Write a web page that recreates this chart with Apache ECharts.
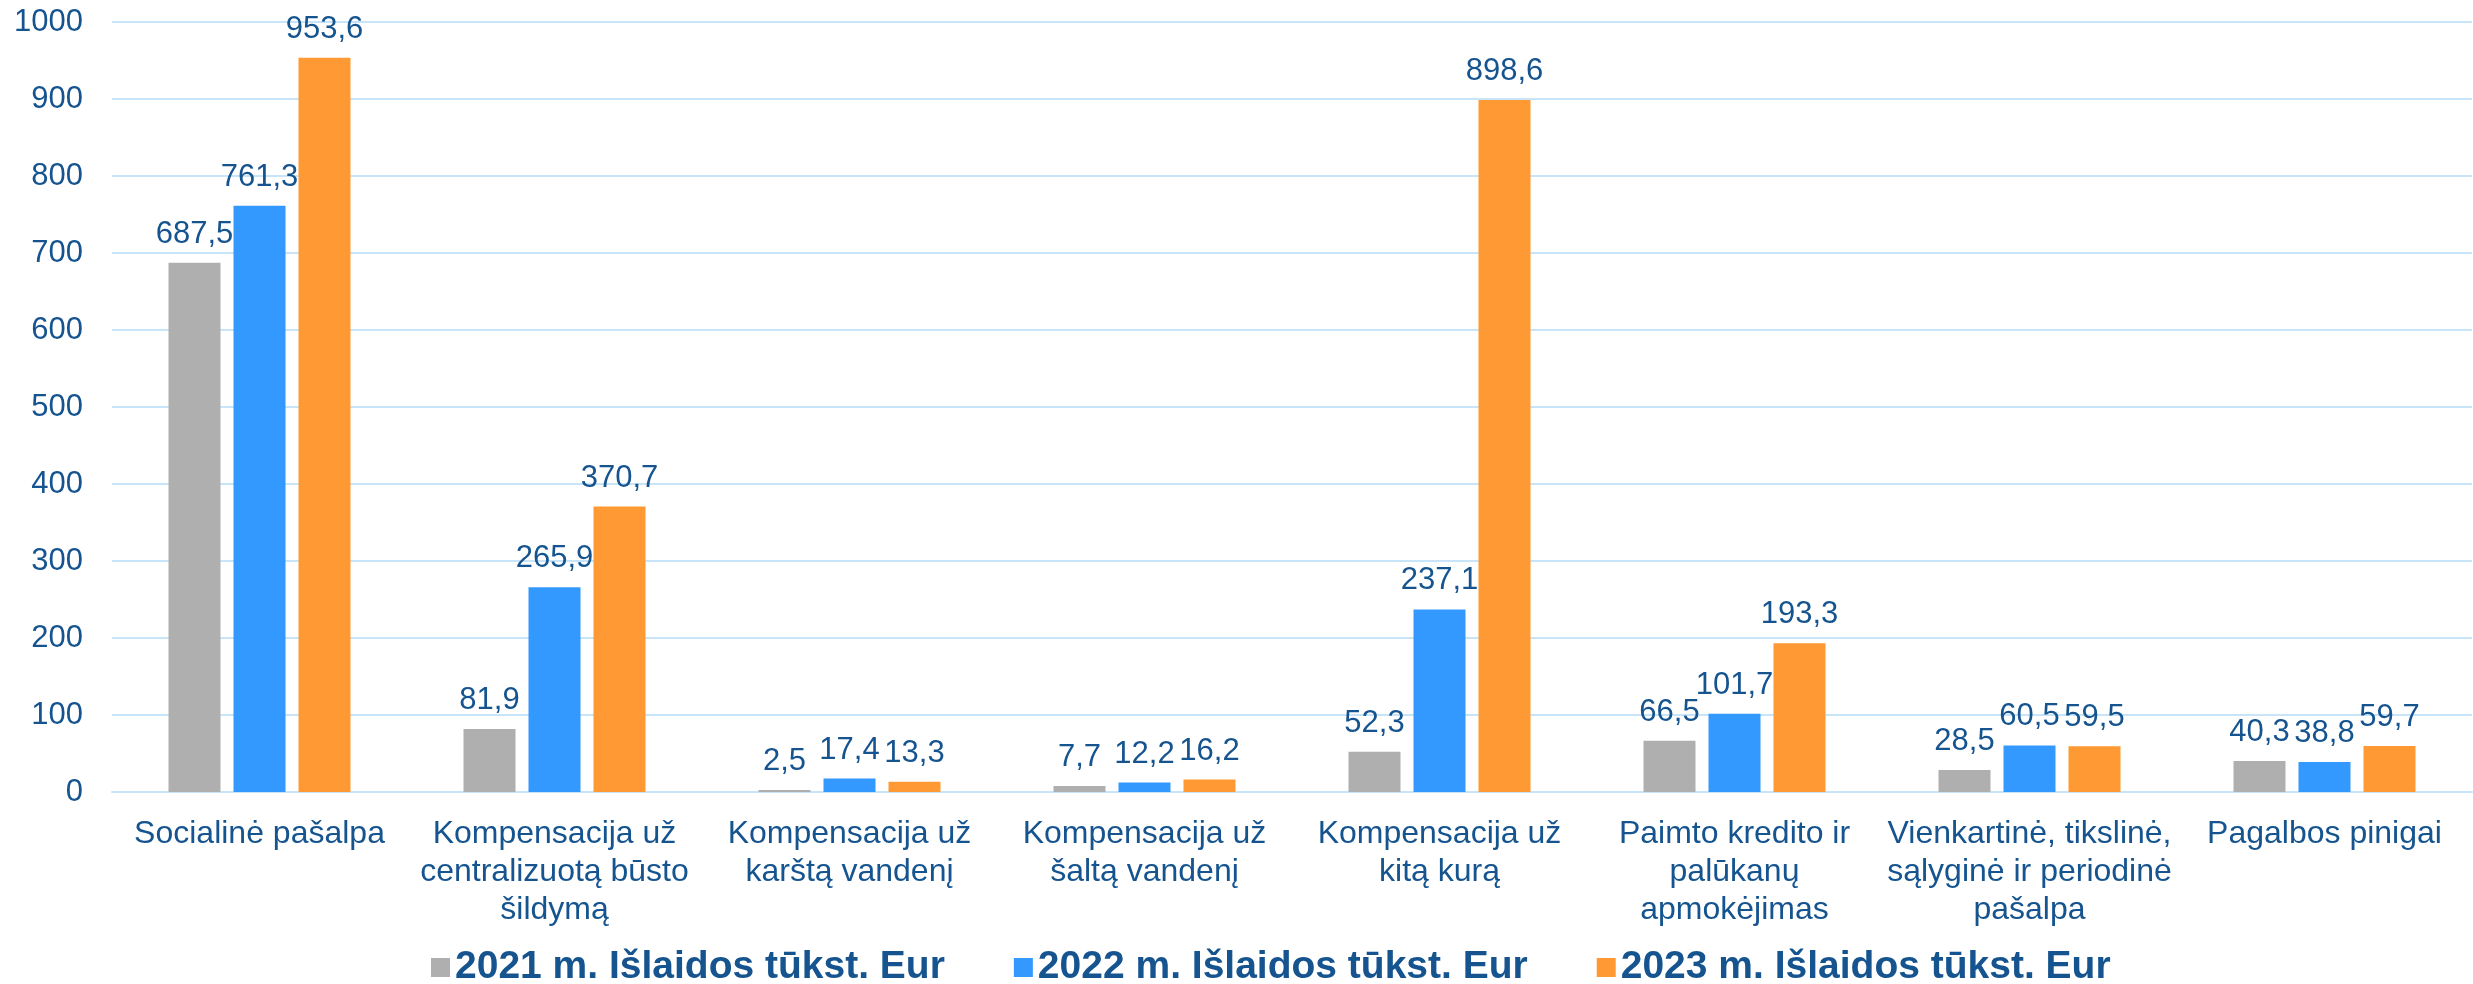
<!DOCTYPE html>
<html lang="lt">
<head>
    <meta charset="UTF-8">
    <title>Išlaidos</title>
    <script src="https://cdn.jsdelivr.net/npm/echarts@6.0.0/dist/echarts.min.js"></script>
    <style>
        html, body { margin: 0; padding: 0; background: #fff; }
        #main { width: 2473px; height: 984px; }
    </style>
</head>
<body>
    <div id="main"></div>

    <script>
        var categories = [
            'Socialinė pašalpa',
            'Kompensacija už\ncentralizuotą būsto\nšildymą',
            'Kompensacija už\nkarštą vandenį',
            'Kompensacija už\nšaltą vandenį',
            'Kompensacija už\nkitą kurą',
            'Paimto kredito ir\npalūkanų\napmokėjimas',
            'Vienkartinė, tikslinė,\nsąlyginė ir periodinė\npašalpa',
            'Pagalbos pinigai'
        ];
        var seriesNames = [
            '2021 m. Išlaidos tūkst. Eur',
            '2022 m. Išlaidos tūkst. Eur',
            '2023 m. Išlaidos tūkst. Eur'
        ];
        var values2021 = [687.5, 81.9, 2.5, 7.7, 52.3, 66.5, 28.5, 40.3];
        var values2022 = [761.3, 265.9, 17.4, 12.2, 237.1, 101.7, 60.5, 38.8];
        var values2023 = [953.6, 370.7, 13.3, 16.2, 898.6, 193.3, 59.5, 59.7];
        var colors = ['#AFAFAF', '#3399FF', '#FF9933'];

        var textColor = '#15548F';
        var font = 'Liberation Sans, Arial, sans-serif';

        var chart = echarts.init(document.getElementById('main'));

        function makeSeries(name, data, color) {
            return {
                name: name,
                type: 'bar',
                data: data,
                barWidth: 52,
                barGap: '25%',
                itemStyle: { color: color },
                label: {
                    show: true,
                    position: 'top',
                    distance: 13,
                    color: textColor,
                    fontFamily: font,
                    fontSize: 31,
                    formatter: function (p) {
                        return p.value.toFixed(1).replace('.', ',');
                    }
                }
            };
        }

        var option = {
            animation: false,
            backgroundColor: '#ffffff',
            color: colors,
            grid: { left: 112, right: 1, top: 22, bottom: 192 },
            legend: {
                data: seriesNames,
                left: 426,
                top: 943,
                itemWidth: 19,
                itemHeight: 19,
                itemGap: 69,
                icon: 'rect',
                textStyle: {
                    color: textColor,
                    fontFamily: font,
                    fontWeight: 'bold',
                    fontSize: 39
                }
            },
            xAxis: {
                type: 'category',
                data: categories,
                axisLine: { show: true, lineStyle: { color: '#C8E4F8', width: 2 } },
                axisTick: { show: false },
                axisLabel: {
                    interval: 0,
                    margin: 23,
                    color: textColor,
                    fontFamily: font,
                    fontSize: 32,
                    lineHeight: 38
                }
            },
            yAxis: {
                type: 'value',
                min: 0,
                max: 1000,
                interval: 100,
                axisLine: { show: false },
                axisTick: { show: false },
                splitLine: { lineStyle: { color: '#C8E4F8', width: 2 } },
                axisLabel: {
                    margin: 29,
                    color: textColor,
                    fontFamily: font,
                    fontSize: 31,
                    formatter: function (v) { return String(v); }
                }
            },
            series: [
                makeSeries(seriesNames[0], values2021, colors[0]),
                makeSeries(seriesNames[1], values2022, colors[1]),
                makeSeries(seriesNames[2], values2023, colors[2])
            ]
        };

        chart.setOption(option);
    </script>
</body>
</html>
